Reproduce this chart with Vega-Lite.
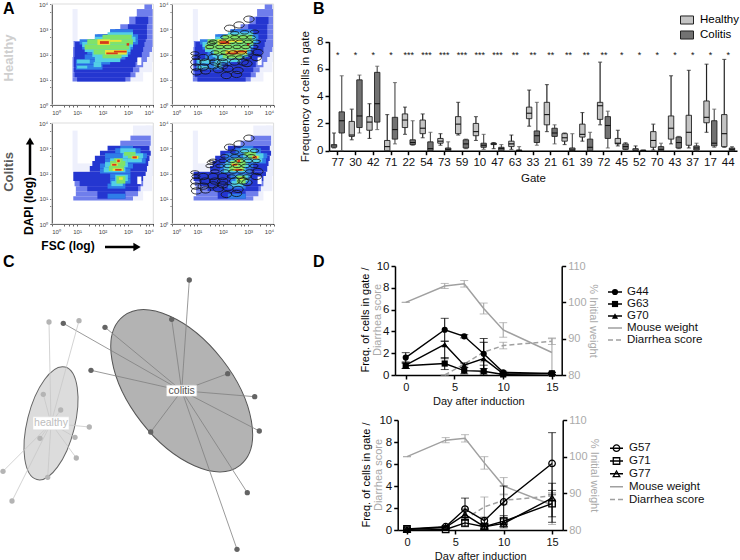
{"$schema":"https://vega.github.io/schema/vega-lite/v6.json","width":740,"height":560,"padding":0,"autosize":{"type":"none"},
"config":{"view":{"stroke":null},"font":"Liberation Sans","axis":{"grid":false,"domainColor":"#000","domainWidth":1.5,"tickColor":"#000","tickWidth":1.5,"tickSize":4,"labelFont":"Liberation Sans","titleFont":"Liberation Sans","titleFontWeight":"normal","labelColor":"#111","titleColor":"#111"}},
"datasets":{
"hd":[{"x":0.82,"x2":1.02,"y":2.5,"y2":3.8,"c":"p"},{"x":3.1,"x2":3.6,"y":0.93,"y2":1.3,"c":"p"},{"x":3.4,"x2":3.95,"y":1.3,"y2":1.7,"c":"p"},{"x":3.6,"x2":4,"y":1.7,"y2":2.3,"c":"p"},
{"x":0.82,"x2":3.1,"y":0.93,"y2":1.1,"c":"l"},{"x":0.82,"x2":3.3,"y":1.1,"y2":1.3,"c":"l"},{"x":0.82,"x2":3.45,"y":1.3,"y2":1.5,"c":"l"},{"x":0.82,"x2":3.6,"y":1.5,"y2":1.7,"c":"l"},{"x":0.82,"x2":3.75,"y":1.7,"y2":1.9,"c":"l"},{"x":0.84,"x2":3.85,"y":1.9,"y2":2.1,"c":"l"},{"x":0.84,"x2":3.95,"y":2.1,"y2":2.3,"c":"l"},{"x":0.86,"x2":3.98,"y":2.3,"y2":2.53,"c":"l"},{"x":1.5,"x2":3.98,"y":2.53,"y2":2.6,"c":"l"},{"x":1.8,"x2":3.98,"y":2.6,"y2":2.8,"c":"l"},{"x":2.3,"x2":3.98,"y":2.8,"y2":3,"c":"l"},{"x":2.7,"x2":3.98,"y":3,"y2":3.2,"c":"l"},{"x":3.05,"x2":3.98,"y":3.2,"y2":3.5,"c":"l"},{"x":3.35,"x2":3.98,"y":3.5,"y2":3.8,"c":"l"},{"x":3.65,"x2":3.95,"y":3.8,"y2":4,"c":"l"},
{"x":1,"x2":2.9,"y":0.93,"y2":1.1,"c":"b"},{"x":0.9,"x2":3.1,"y":1.1,"y2":1.3,"c":"b"},{"x":0.88,"x2":3.2,"y":1.3,"y2":1.5,"c":"b"},{"x":0.88,"x2":3.3,"y":1.5,"y2":1.7,"c":"b"},{"x":0.88,"x2":3.4,"y":1.7,"y2":1.9,"c":"b"},{"x":0.9,"x2":3.55,"y":1.9,"y2":2.1,"c":"b"},{"x":0.9,"x2":3.6,"y":2.1,"y2":2.3,"c":"b"},{"x":0.92,"x2":3.65,"y":2.3,"y2":2.5,"c":"b"},{"x":1.7,"x2":3.7,"y":2.5,"y2":2.6,"c":"b"},{"x":2,"x2":3.75,"y":2.6,"y2":2.8,"c":"b"},{"x":2.5,"x2":3.75,"y":2.8,"y2":3,"c":"b"},{"x":3,"x2":3.75,"y":3,"y2":3.2,"c":"b"},{"x":3.3,"x2":3.8,"y":3.2,"y2":3.5,"c":"b"},
{"x":0.95,"x2":2,"y":1.4,"y2":1.6,"c":"m"},{"x":0.95,"x2":2.3,"y":1.6,"y2":1.8,"c":"m"},{"x":1.3,"x2":2.9,"y":1.8,"y2":2,"c":"m"},{"x":1.4,"x2":3.1,"y":2,"y2":2.2,"c":"m"},{"x":1.2,"x2":3.2,"y":2.2,"y2":2.4,"c":"m"},{"x":1.1,"x2":3.4,"y":2.4,"y2":2.6,"c":"m"},{"x":1.7,"x2":3.4,"y":2.6,"y2":2.8,"c":"m"},{"x":2.3,"x2":3.2,"y":2.8,"y2":3,"c":"m"},
{"x":1,"x2":1.5,"y":1.65,"y2":1.8,"c":"c"},{"x":1,"x2":1.4,"y":1.45,"y2":1.55,"c":"c"},{"x":1.65,"x2":1.95,"y":1.5,"y2":1.7,"c":"c"},{"x":1.7,"x2":2.7,"y":1.7,"y2":1.9,"c":"c"},{"x":1.6,"x2":3,"y":1.9,"y2":2.1,"c":"c"},{"x":1.3,"x2":3.1,"y":2.1,"y2":2.3,"c":"c"},{"x":1.2,"x2":3.2,"y":2.3,"y2":2.5,"c":"c"},{"x":1.7,"x2":3.3,"y":2.5,"y2":2.7,"c":"c"},{"x":2.2,"x2":3.2,"y":2.7,"y2":2.88,"c":"c"},
{"x":2,"x2":2.75,"y":1.85,"y2":2,"c":"g"},{"x":1.65,"x2":2.95,"y":2,"y2":2.2,"c":"g"},{"x":1.3,"x2":3.05,"y":2.2,"y2":2.4,"c":"g"},{"x":1.4,"x2":3.2,"y":2.4,"y2":2.6,"c":"g"},{"x":2,"x2":3.15,"y":2.6,"y2":2.78,"c":"g"},
{"x":1.8,"x2":2.3,"y":2.38,"y2":2.6,"c":"y"},{"x":2.3,"x2":2.75,"y":2.5,"y2":2.58,"c":"y"},{"x":2.1,"x2":2.95,"y":2,"y2":2.18,"c":"y"},
{"x":1.9,"x2":2.25,"y":2.42,"y2":2.53,"c":"r"},{"x":2.15,"x2":2.6,"y":2.01,"y2":2.08,"c":"r"},{"x":2.45,"x2":2.95,"y":2.08,"y2":2.15,"c":"r"},{"x":2.95,"x2":3.05,"y":2.35,"y2":2.45,"c":"r"},
{"x":3.37,"x2":3.53,"y":1.58,"y2":1.88,"c":"w"}],
"cd":[{"x":0.82,"x2":1.02,"y":2.1,"y2":3.7,"c":"p"},{"x":1,"x2":2,"y":2.1,"y2":2.4,"c":"p"},{"x":3.1,"x2":3.6,"y":0.93,"y2":1.3,"c":"p"},{"x":3.4,"x2":3.95,"y":1.3,"y2":1.9,"c":"p"},{"x":3.7,"x2":4,"y":1.9,"y2":3.9,"c":"p"},{"x":3.2,"x2":3.9,"y":3.3,"y2":3.9,"c":"p"},
{"x":0.85,"x2":3.2,"y":0.93,"y2":1.1,"c":"l"},{"x":0.95,"x2":3.4,"y":1.1,"y2":1.3,"c":"l"},{"x":0.95,"x2":3.5,"y":1.3,"y2":1.5,"c":"l"},{"x":0.9,"x2":3.6,"y":1.5,"y2":1.7,"c":"l"},{"x":2.7,"x2":3.9,"y":3.1,"y2":3.3,"c":"l"},{"x":3.1,"x2":3.9,"y":3.3,"y2":3.5,"c":"l"},
{"x":1.8,"x2":2.9,"y":1,"y2":1.3,"c":"b"},{"x":1.4,"x2":3.4,"y":1.3,"y2":1.5,"c":"b"},{"x":1.1,"x2":3.5,"y":1.5,"y2":1.7,"c":"b"},{"x":0.85,"x2":3.6,"y":1.7,"y2":1.9,"c":"b"},{"x":0.85,"x2":3.7,"y":1.9,"y2":2.07,"c":"b"},{"x":1.5,"x2":3.75,"y":2.07,"y2":2.3,"c":"b"},{"x":1.6,"x2":3.8,"y":2.3,"y2":2.5,"c":"b"},{"x":1.7,"x2":3.85,"y":2.5,"y2":2.7,"c":"b"},{"x":1.9,"x2":3.9,"y":2.7,"y2":2.9,"c":"b"},{"x":2.2,"x2":3.85,"y":2.9,"y2":3.1,"c":"b"},
{"x":2.2,"x2":2.9,"y":1,"y2":1.2,"c":"m"},{"x":2.2,"x2":2.9,"y":1.4,"y2":1.6,"c":"m"},{"x":2.3,"x2":3.1,"y":1.6,"y2":1.8,"c":"m"},{"x":2.3,"x2":3.1,"y":1.8,"y2":2,"c":"m"},{"x":1.9,"x2":3.1,"y":2,"y2":2.2,"c":"m"},{"x":1.9,"x2":3.2,"y":2.2,"y2":2.4,"c":"m"},{"x":2.1,"x2":3.7,"y":2.4,"y2":2.6,"c":"m"},{"x":2.1,"x2":3.75,"y":2.6,"y2":2.8,"c":"m"},{"x":2.5,"x2":3.5,"y":2.8,"y2":3,"c":"m"},{"x":2.7,"x2":3.2,"y":3,"y2":3.1,"c":"m"},
{"x":2.35,"x2":2.8,"y":1.5,"y2":1.7,"c":"c"},{"x":2.5,"x2":3,"y":1.7,"y2":1.95,"c":"c"},{"x":2.05,"x2":2.9,"y":2.05,"y2":2.25,"c":"c"},{"x":2.1,"x2":3,"y":2.25,"y2":2.45,"c":"c"},{"x":2.3,"x2":3,"y":2.45,"y2":2.6,"c":"c"},{"x":3,"x2":3.55,"y":2.45,"y2":2.6,"c":"c"},{"x":2.8,"x2":3.6,"y":2.6,"y2":2.8,"c":"c"},{"x":2.7,"x2":3.3,"y":2.8,"y2":3,"c":"c"},
{"x":2.55,"x2":2.9,"y":1.6,"y2":1.9,"c":"g"},{"x":2.25,"x2":2.85,"y":2.1,"y2":2.3,"c":"g"},{"x":2.3,"x2":2.9,"y":2.3,"y2":2.5,"c":"g"},{"x":2.45,"x2":2.8,"y":2.5,"y2":2.6,"c":"g"},{"x":3,"x2":3.45,"y":2.6,"y2":2.7,"c":"g"},{"x":2.85,"x2":3.3,"y":2.7,"y2":2.85,"c":"g"},
{"x":2.65,"x2":2.8,"y":1.75,"y2":1.85,"c":"y"},{"x":2.4,"x2":2.8,"y":2.1,"y2":2.2,"c":"y"},{"x":2.35,"x2":2.6,"y":2.3,"y2":2.4,"c":"y"},{"x":2.55,"x2":2.7,"y":2.43,"y2":2.57,"c":"y"},{"x":3.15,"x2":3.4,"y":2.58,"y2":2.7,"c":"y"},
{"x":3.18,"x2":3.35,"y":2.6,"y2":2.68,"c":"r"},{"x":2.5,"x2":2.75,"y":2.11,"y2":2.18,"c":"r"},{"x":2.38,"x2":2.55,"y":2.31,"y2":2.38,"c":"r"},{"x":2.58,"x2":2.68,"y":2.45,"y2":2.55,"c":"r"},
{"x":3.37,"x2":3.53,"y":1.58,"y2":1.88,"c":"w"}],
"gates":[{"x":2.27,"y":3.04,"k":"a"},{"x":2.64,"y":3.17,"k":"a"},{"x":3.03,"y":3.4,"k":"a"},{"x":2.47,"y":2.84,"k":"b"},{"x":2.86,"y":2.88,"k":"b"},{"x":3.25,"y":2.9,"k":"b"},{"x":2.08,"y":2.68,"k":"b"},{"x":2.47,"y":2.68,"k":"b"},{"x":2.8,"y":2.68,"k":"b"},{"x":3.12,"y":2.68,"k":"b"},{"x":1.62,"y":2.5,"k":"b"},{"x":2,"y":2.5,"k":"b"},{"x":2.34,"y":2.5,"k":"b"},{"x":2.67,"y":2.5,"k":"b"},{"x":3,"y":2.5,"k":"b"},{"x":3.32,"y":2.5,"k":"b"},{"x":1.49,"y":2.3,"k":"b"},{"x":1.88,"y":2.3,"k":"b"},{"x":2.2,"y":2.3,"k":"b"},{"x":2.56,"y":2.3,"k":"b"},{"x":2.9,"y":2.3,"k":"b"},{"x":3.23,"y":2.3,"k":"b"},{"x":1.69,"y":2.08,"k":"b"},{"x":2.08,"y":2.08,"k":"b"},{"x":2.4,"y":2.08,"k":"b"},{"x":2.73,"y":2.08,"k":"b"},{"x":3.06,"y":2.08,"k":"b"},{"x":3.38,"y":2.08,"k":"a"},{"x":1.23,"y":1.88,"k":"a"},{"x":1.62,"y":1.88,"k":"a"},{"x":2,"y":1.88,"k":"a"},{"x":2.34,"y":1.88,"k":"b"},{"x":2.67,"y":1.88,"k":"b"},{"x":2.95,"y":1.88,"k":"b"},{"x":3.32,"y":1.88,"k":"a"},{"x":0.94,"y":1.7,"k":"a"},{"x":1.3,"y":1.7,"k":"a"},{"x":1.69,"y":1.7,"k":"a"},{"x":2,"y":1.7,"k":"a"},{"x":2.47,"y":1.7,"k":"a"},{"x":2.8,"y":1.7,"k":"a"},{"x":0.94,"y":1.5,"k":"a"},{"x":1.23,"y":1.5,"k":"a"},{"x":1.62,"y":1.55,"k":"a"},{"x":2,"y":1.55,"k":"a"},{"x":0.97,"y":1.31,"k":"a"},{"x":1.32,"y":1.35,"k":"a"},{"x":1.82,"y":1.4,"k":"a"},{"x":2.2,"y":1.44,"k":"a"},{"x":2.6,"y":1.37,"k":"a"},{"x":2.95,"y":1.64,"k":"a"},{"x":2.14,"y":1.17,"k":"a"},{"x":2.54,"y":1.21,"k":"a"},{"x":0.94,"y":1.88,"k":"b"},{"x":0.9,"y":2.04,"k":"b"},{"x":1.55,"y":2.44,"k":"b"}],
"spokes":[{"g":"colitis","x":189.3,"y":10,"cx":181.7,"cy":120.7},{"g":"colitis","x":171.7,"y":49.3,"cx":181.7,"cy":120.7},{"g":"colitis","x":63.3,"y":53.3,"cx":181.7,"cy":120.7},{"g":"colitis","x":105,"y":57.3,"cx":181.7,"cy":120.7},{"g":"colitis","x":91,"y":100.3,"cx":181.7,"cy":120.7},{"g":"colitis","x":227.7,"y":103.7,"cx":181.7,"cy":120.7},{"g":"colitis","x":254.7,"y":126.7,"cx":181.7,"cy":120.7},{"g":"colitis","x":259.3,"y":161,"cx":181.7,"cy":120.7},{"g":"colitis","x":150.7,"y":162,"cx":181.7,"cy":120.7},{"g":"colitis","x":247.3,"y":222.7,"cx":181.7,"cy":120.7},{"g":"colitis","x":237,"y":279.3,"cx":181.7,"cy":120.7},
{"g":"healthy","x":49,"y":52,"cx":51,"cy":153.3},{"g":"healthy","x":79,"y":50.7,"cx":51,"cy":153.3},{"g":"healthy","x":43.3,"y":124.3,"cx":51,"cy":153.3},{"g":"healthy","x":60.7,"y":140,"cx":51,"cy":153.3},{"g":"healthy","x":89.3,"y":157,"cx":51,"cy":153.3},{"g":"healthy","x":75,"y":167.3,"cx":51,"cy":153.3},{"g":"healthy","x":40,"y":168.3,"cx":51,"cy":153.3},{"g":"healthy","x":76.3,"y":188,"cx":51,"cy":153.3},{"g":"healthy","x":47.7,"y":207.3,"cx":51,"cy":153.3},{"g":"healthy","x":3,"y":201.3,"cx":51,"cy":153.3},{"g":"healthy","x":12,"y":231,"cx":51,"cy":153.3}],
"hubs":[{"g":"healthy","x":51,"y":153.3},{"g":"colitis","x":181.7,"y":120.7}],
"box":[{"gate":"77","group":"Healthy","lo":0.2,"q1":0.25,"med":0.35,"q3":0.45,"hi":1.3},{"gate":"77","group":"Colitis","lo":0,"q1":1.3,"med":2.2,"q3":2.85,"hi":5.5},{"gate":"30","group":"Healthy","lo":0.8,"q1":1.05,"med":1.15,"q3":2.15,"hi":3.05},{"gate":"30","group":"Colitis","lo":1.3,"q1":1.7,"med":2.55,"q3":5.2,"hi":5.55},{"gate":"42","group":"Healthy","lo":0.9,"q1":1.5,"med":2.1,"q3":2.5,"hi":3.45},{"gate":"42","group":"Colitis","lo":1.55,"q1":2.1,"med":3.45,"q3":5.75,"hi":6.2},{"gate":"71","group":"Healthy","lo":0,"q1":0,"med":0.3,"q3":0.75,"hi":2.65},{"gate":"71","group":"Colitis","lo":0.5,"q1":0.85,"med":1.55,"q3":2.45,"hi":5},{"gate":"22","group":"Healthy","lo":1.2,"q1":1.7,"med":2.25,"q3":2.7,"hi":3.2},{"gate":"22","group":"Colitis","lo":0.4,"q1":0.45,"med":0.6,"q3":0.8,"hi":2.2},{"gate":"54","group":"Healthy","lo":0.95,"q1":1.25,"med":1.65,"q3":2.25,"hi":2.7},{"gate":"54","group":"Colitis","lo":0,"q1":0,"med":0.15,"q3":0.65,"hi":1.35},{"gate":"73","group":"Healthy","lo":0.4,"q1":0.55,"med":0.7,"q3":0.9,"hi":1.25},{"gate":"73","group":"Colitis","lo":0,"q1":0,"med":0.1,"q3":0.2,"hi":0.65},{"gate":"59","group":"Healthy","lo":1.15,"q1":1.25,"med":1.95,"q3":2.5,"hi":3.55},{"gate":"59","group":"Colitis","lo":0.15,"q1":0.2,"med":0.5,"q3":0.8,"hi":0.85},{"gate":"10","group":"Healthy","lo":0.75,"q1":1.1,"med":1.4,"q3":2,"hi":2.5},{"gate":"10","group":"Colitis","lo":0.1,"q1":0.25,"med":0.4,"q3":0.55,"hi":1.2},{"gate":"47","group":"Healthy","lo":0.15,"q1":0.45,"med":0.5,"q3":0.55,"hi":0.6},{"gate":"47","group":"Colitis","lo":0,"q1":0,"med":0.15,"q3":0.25,"hi":0.45},{"gate":"63","group":"Healthy","lo":0.1,"q1":0.3,"med":0.5,"q3":0.7,"hi":1.15},{"gate":"63","group":"Colitis","lo":0,"q1":0,"med":0.02,"q3":0.05,"hi":0.3},{"gate":"33","group":"Healthy","lo":1.8,"q1":2.35,"med":2.75,"q3":3.2,"hi":4.45},{"gate":"33","group":"Colitis","lo":0.4,"q1":0.6,"med":1.1,"q3":1.45,"hi":3.55},{"gate":"21","group":"Healthy","lo":1.4,"q1":1.9,"med":2.65,"q3":3.55,"hi":4.85},{"gate":"21","group":"Colitis","lo":0.5,"q1":1.05,"med":1.3,"q3":1.65,"hi":1.9},{"gate":"61","group":"Healthy","lo":0.45,"q1":0.7,"med":0.95,"q3":1.25,"hi":1.3},{"gate":"61","group":"Colitis","lo":0,"q1":0,"med":0.05,"q3":0.2,"hi":1.25},{"gate":"39","group":"Healthy","lo":0.7,"q1":1,"med":1.2,"q3":1.95,"hi":2.8},{"gate":"39","group":"Colitis","lo":0,"q1":0,"med":0.25,"q3":0.85,"hi":1.35},{"gate":"72","group":"Healthy","lo":1.9,"q1":2.3,"med":3.3,"q3":3.55,"hi":6.5},{"gate":"72","group":"Colitis","lo":0.2,"q1":0.9,"med":1.85,"q3":2.5,"hi":2.9},{"gate":"45","group":"Healthy","lo":0.35,"q1":0.5,"med":0.55,"q3":0.9,"hi":1.5},{"gate":"45","group":"Colitis","lo":0.05,"q1":0.1,"med":0.3,"q3":0.5,"hi":0.6},{"gate":"52","group":"Healthy","lo":0,"q1":0,"med":0.05,"q3":0.15,"hi":0.35},{"gate":"52","group":"Colitis","lo":0,"q1":0,"med":0.02,"q3":0.03,"hi":0.05},{"gate":"70","group":"Healthy","lo":0.05,"q1":0.25,"med":0.75,"q3":1.4,"hi":1.95},{"gate":"70","group":"Colitis","lo":0,"q1":0,"med":0.1,"q3":0.3,"hi":0.55},{"gate":"43","group":"Healthy","lo":0.5,"q1":0.85,"med":1.65,"q3":2.55,"hi":5.5},{"gate":"43","group":"Colitis","lo":0.15,"q1":0.2,"med":0.6,"q3":1,"hi":1.05},{"gate":"37","group":"Healthy","lo":0.2,"q1":0.4,"med":1.35,"q3":2.6,"hi":5.9},{"gate":"37","group":"Colitis","lo":0,"q1":0.05,"med":0.2,"q3":0.35,"hi":0.55},{"gate":"17","group":"Healthy","lo":1.35,"q1":2.05,"med":2.45,"q3":3.65,"hi":6.35},{"gate":"17","group":"Colitis","lo":0.25,"q1":0.35,"med":0.55,"q3":2.2,"hi":3.05},{"gate":"44","group":"Healthy","lo":0.25,"q1":0.3,"med":1.25,"q3":2.65,"hi":6.7},{"gate":"44","group":"Colitis","lo":0,"q1":0,"med":0.1,"q3":0.2,"hi":0.3}],
"stars":[{"gate":"77","s":"*"},{"gate":"30","s":"*"},{"gate":"42","s":"*"},{"gate":"71","s":"*"},{"gate":"22","s":"***"},{"gate":"54","s":"***"},{"gate":"73","s":"***"},{"gate":"59","s":"***"},{"gate":"10","s":"***"},{"gate":"47","s":"***"},{"gate":"63","s":"**"},{"gate":"33","s":"**"},{"gate":"21","s":"**"},{"gate":"61","s":"**"},{"gate":"39","s":"**"},{"gate":"72","s":"**"},{"gate":"45","s":"*"},{"gate":"52","s":"*"},{"gate":"70","s":"*"},{"gate":"43","s":"*"},{"gate":"37","s":"*"},{"gate":"17","s":"*"},{"gate":"44","s":"*"}],
"d1":[{"s":"W","day":0,"v":100,"lo":100,"hi":100},{"s":"W","day":4,"v":104.5,"lo":103.8,"hi":105.2},{"s":"W","day":6,"v":105.1,"lo":104.2,"hi":106},{"s":"W","day":8,"v":98.3,"lo":96.8,"hi":99.8},{"s":"W","day":10,"v":92.4,"lo":90.4,"hi":94.4},{"s":"W","day":15,"v":86.2,"lo":80,"hi":90},
{"s":"S","day":4,"v":0,"lo":0,"hi":0},{"s":"S","day":6,"v":1,"lo":0.9,"hi":1.1},{"s":"S","day":8,"v":2.1,"lo":1.2,"hi":3},{"s":"S","day":10,"v":2.7,"lo":2.4,"hi":3},{"s":"S","day":15,"v":3.1,"lo":2.8,"hi":3.4},
{"s":"G44","day":0,"v":1.6,"lo":1.1,"hi":2.05},{"s":"G44","day":4,"v":4.15,"lo":3.1,"hi":5.2},{"s":"G44","day":6,"v":3.55,"lo":3.4,"hi":3.7},{"s":"G44","day":8,"v":1.95,"lo":0.6,"hi":3.35},{"s":"G44","day":10,"v":0.25,"lo":0.15,"hi":0.35},{"s":"G44","day":15,"v":0.15,"lo":0.05,"hi":0.25},
{"s":"G63","day":0,"v":0.85,"lo":0.6,"hi":1.1},{"s":"G63","day":4,"v":1.05,"lo":0.5,"hi":1.6},{"s":"G63","day":6,"v":0.4,"lo":0.1,"hi":0.7},{"s":"G63","day":8,"v":0.35,"lo":0,"hi":0.9},{"s":"G63","day":10,"v":0.05,"lo":0,"hi":0.1},{"s":"G63","day":15,"v":0.15,"lo":0.05,"hi":0.25},
{"s":"G70","day":0,"v":0.9,"lo":0.6,"hi":1.2},{"s":"G70","day":4,"v":2.8,"lo":1.5,"hi":3.1},{"s":"G70","day":6,"v":0.9,"lo":0.7,"hi":1.1},{"s":"G70","day":8,"v":1.5,"lo":0.2,"hi":3},{"s":"G70","day":10,"v":0.1,"lo":0,"hi":0.2},{"s":"G70","day":15,"v":0.1,"lo":0,"hi":0.2}],
"d2":[{"s":"W","day":0,"v":100,"lo":100,"hi":100},{"s":"W","day":4,"v":104.5,"lo":103.8,"hi":105.2},{"s":"W","day":6,"v":105,"lo":104,"hi":106},{"s":"W","day":8,"v":98.3,"lo":96.6,"hi":100},{"s":"W","day":10,"v":92,"lo":89.8,"hi":94.3},{"s":"W","day":15,"v":86.8,"lo":81.5,"hi":90},
{"s":"S","day":6,"v":1,"lo":0.9,"hi":1.1},{"s":"S","day":8,"v":2.1,"lo":1.2,"hi":3},{"s":"S","day":10,"v":2.7,"lo":2.3,"hi":3.2},{"s":"S","day":15,"v":3.1,"lo":2.8,"hi":3.4},
{"s":"G57","day":0,"v":0.1,"lo":0,"hi":0.2},{"s":"G57","day":4,"v":0.3,"lo":0.2,"hi":0.4},{"s":"G57","day":6,"v":1.9,"lo":0.9,"hi":2.9},{"s":"G57","day":8,"v":0.85,"lo":0.6,"hi":1.1},{"s":"G57","day":10,"v":2.55,"lo":1.1,"hi":4},{"s":"G57","day":15,"v":6.05,"lo":3.2,"hi":8.85},
{"s":"G71","day":0,"v":0.1,"lo":0,"hi":0.2},{"s":"G71","day":4,"v":0.05,"lo":0,"hi":0.1},{"s":"G71","day":6,"v":0.65,"lo":0.3,"hi":1},{"s":"G71","day":8,"v":0.3,"lo":0.1,"hi":0.5},{"s":"G71","day":10,"v":0.8,"lo":0.3,"hi":1.3},{"s":"G71","day":15,"v":2.4,"lo":1.2,"hi":3.6},
{"s":"G77","day":0,"v":0.05,"lo":0,"hi":0.1},{"s":"G77","day":4,"v":0.25,"lo":0.15,"hi":0.35},{"s":"G77","day":6,"v":1.4,"lo":0.9,"hi":1.9},{"s":"G77","day":8,"v":0.3,"lo":0.1,"hi":0.5},{"s":"G77","day":10,"v":0.6,"lo":0.2,"hi":1},{"s":"G77","day":15,"v":2.9,"lo":0.7,"hi":4.25}]
},
"data":{"values":[{"n":1}]},
"resolve":{"scale":{"x":"independent","y":"independent","color":"independent","stroke":"independent","shape":"independent","size":"independent","strokeDash":"independent"},"axis":{"x":"independent","y":"independent"}},
"layer":[
{"layer":[
 {"mark":{"type":"text","text":"A","fontSize":16,"fontWeight":"bold","align":"left"},"encoding":{"x":{"datum":3,"scale":{"domain":[0,740],"range":[0,740],"nice":false},"axis":null},"y":{"datum":9,"scale":{"domain":[0,560],"range":[0,560],"nice":false},"axis":null}}},
 {"mark":{"type":"text","text":"B","fontSize":16,"fontWeight":"bold","align":"left"},"encoding":{"x":{"datum":313,"axis":null},"y":{"datum":9,"axis":null}}},
 {"mark":{"type":"text","text":"C","fontSize":16,"fontWeight":"bold","align":"left"},"encoding":{"x":{"datum":3,"axis":null},"y":{"datum":262,"axis":null}}},
 {"mark":{"type":"text","text":"D","fontSize":16,"fontWeight":"bold","align":"left"},"encoding":{"x":{"datum":313,"axis":null},"y":{"datum":262,"axis":null}}},
 {"mark":{"type":"text","text":"Healthy","fontSize":13,"fontWeight":"bold","angle":270,"color":"#cfcfcf"},"encoding":{"x":{"datum":9,"axis":null},"y":{"datum":58,"axis":null}}},
 {"mark":{"type":"text","text":"Colitis","fontSize":13,"fontWeight":"bold","angle":270,"color":"#5a5a5a"},"encoding":{"x":{"datum":9,"axis":null},"y":{"datum":172,"axis":null}}},
 {"mark":{"type":"text","text":"DAPI (log)","fontSize":12,"fontWeight":"bold","angle":270},"encoding":{"x":{"datum":29,"axis":null},"y":{"datum":206,"axis":null}}},
 {"mark":{"type":"text","text":"FSC (log)","fontSize":12,"fontWeight":"bold"},"encoding":{"x":{"datum":68,"axis":null},"y":{"datum":246,"axis":null}}},
 {"mark":{"type":"rule","strokeWidth":2.5,"color":"#000"},"encoding":{"x":{"datum":30,"axis":null},"y":{"datum":175,"axis":null},"y2":{"datum":142}}},
 {"mark":{"type":"point","shape":"triangle-up","filled":true,"size":70,"color":"#000","opacity":1},"encoding":{"x":{"datum":30,"axis":null},"y":{"datum":141,"axis":null}}},
 {"mark":{"type":"rule","strokeWidth":2.5,"color":"#000"},"encoding":{"x":{"datum":105,"axis":null},"x2":{"datum":136},"y":{"datum":247,"axis":null}}},
 {"mark":{"type":"point","shape":"triangle-right","filled":true,"size":70,"color":"#000","opacity":1},"encoding":{"x":{"datum":137,"axis":null},"y":{"datum":247,"axis":null}}},
 {"mark":{"type":"text","text":"Freq. of cells in gate /","fontSize":11,"angle":270},"encoding":{"x":{"datum":366,"axis":null},"y":{"datum":320,"axis":null}}},
 {"mark":{"type":"text","text":"Diarrhea score","fontSize":11,"angle":270,"color":"#aaa"},"encoding":{"x":{"datum":378,"axis":null},"y":{"datum":320,"axis":null}}},
 {"mark":{"type":"text","text":"Freq. of cells in gate /","fontSize":11,"angle":270},"encoding":{"x":{"datum":367,"axis":null},"y":{"datum":475,"axis":null}}},
 {"mark":{"type":"text","text":"Diarrhea score","fontSize":11,"angle":270,"color":"#aaa"},"encoding":{"x":{"datum":379,"axis":null},"y":{"datum":475,"axis":null}}}
]},
{"layer":[
 {"data":{"name":"hd"},"mark":{"type":"rect"},"encoding":{"x":{"field":"x","type":"quantitative","scale":{"domain":[0,4],"nice":false,"range":[51.7,153.3]},"axis":{"orient":"bottom","offset":-455,"values":[0,0.3,0.48,0.6,0.7,0.78,0.85,0.9,1,1.3,1.48,1.6,1.7,1.78,1.85,1.9,2,2.3,2.48,2.6,2.7,2.78,2.85,2.9,3,3.3,3.48,3.6,3.7,3.78,3.85,3.9,4],"labelExpr":"datum.value==floor(datum.value)?'10'+['⁰','¹','²','³','⁴'][datum.value]:''","labelFontSize":6,"tickSize":2,"tickWidth":0.6,"domainWidth":1,"labelPadding":2,"title":null,"labelColor":"#444"}},"x2":{"field":"x2"},"y":{"field":"y","type":"quantitative","scale":{"domain":[0,4],"nice":false,"range":[105,4]},"axis":{"orient":"left","offset":-51.7,"values":[0,0.3,0.48,0.6,0.7,0.78,0.85,0.9,1,1.3,1.48,1.6,1.7,1.78,1.85,1.9,2,2.3,2.48,2.6,2.7,2.78,2.85,2.9,3,3.3,3.48,3.6,3.7,3.78,3.85,3.9,4],"labelExpr":"datum.value==floor(datum.value)?'10'+['⁰','¹','²','³','⁴'][datum.value]:''","labelFontSize":6,"tickSize":2,"tickWidth":0.6,"domainWidth":1,"labelPadding":2,"title":null,"labelColor":"#444"}},"y2":{"field":"y2"},"color":{"field":"c","type":"nominal","legend":null,"scale":{"domain":["p","l","b","m","c","g","y","r","w"],"range":["#eef0fc","#6f7eec","#2436d0","#2f7de8","#52cfe6","#7fe36a","#e9e43a","#d63a1a","#ffffff"]}}}},
 {"mark":{"type":"rect","fill":null,"stroke":"#ddd","strokeWidth":1},"encoding":{"x":{"datum":0},"x2":{"datum":4},"y":{"datum":0},"y2":{"datum":4}}}
]},
{"layer":[
 {"data":{"name":"hd"},"mark":{"type":"rect"},"encoding":{"x":{"field":"x","type":"quantitative","scale":{"domain":[0,4],"nice":false,"range":[172,273.6]},"axis":{"orient":"bottom","offset":-455,"values":[0,0.3,0.48,0.6,0.7,0.78,0.85,0.9,1,1.3,1.48,1.6,1.7,1.78,1.85,1.9,2,2.3,2.48,2.6,2.7,2.78,2.85,2.9,3,3.3,3.48,3.6,3.7,3.78,3.85,3.9,4],"labelExpr":"datum.value==floor(datum.value)?'10'+['⁰','¹','²','³','⁴'][datum.value]:''","labelFontSize":6,"tickSize":2,"tickWidth":0.6,"domainWidth":1,"labelPadding":2,"title":null,"labelColor":"#444"}},"x2":{"field":"x2"},"y":{"field":"y","type":"quantitative","scale":{"domain":[0,4],"nice":false,"range":[105,4]},"axis":{"orient":"left","offset":-172,"values":[0,0.3,0.48,0.6,0.7,0.78,0.85,0.9,1,1.3,1.48,1.6,1.7,1.78,1.85,1.9,2,2.3,2.48,2.6,2.7,2.78,2.85,2.9,3,3.3,3.48,3.6,3.7,3.78,3.85,3.9,4],"labelExpr":"datum.value==floor(datum.value)?'10'+['⁰','¹','²','³','⁴'][datum.value]:''","labelFontSize":6,"tickSize":2,"tickWidth":0.6,"domainWidth":1,"labelPadding":2,"title":null,"labelColor":"#444"}},"y2":{"field":"y2"},"color":{"field":"c","type":"nominal","legend":null,"scale":{"domain":["p","l","b","m","c","g","y","r","w"],"range":["#eef0fc","#6f7eec","#2436d0","#2f7de8","#52cfe6","#7fe36a","#e9e43a","#d63a1a","#ffffff"]}}}},
 {"mark":{"type":"rect","fill":null,"stroke":"#ddd","strokeWidth":1},"encoding":{"x":{"datum":0},"x2":{"datum":4},"y":{"datum":0},"y2":{"datum":4}}},
 {"data":{"name":"gates"},"mark":{"type":"point","filled":false,"stroke":"#111","strokeWidth":0.8,"opacity":1},"encoding":{"x":{"field":"x","type":"quantitative"},"y":{"field":"y","type":"quantitative"},"shape":{"field":"k","type":"nominal","legend":null,"scale":{"domain":["a","b"],"range":["M-1,0A1,0.6,0,1,1,1,0A1,0.6,0,1,1,-1,0Z","M-1,0A1,0.42,0,1,1,1,0A1,0.42,0,1,1,-1,0Z"]}},"size":{"field":"k","type":"ordinal","legend":null,"scale":{"domain":["a","b"],"range":[110,70]}}}}
]},
{"layer":[
 {"data":{"name":"cd"},"mark":{"type":"rect"},"encoding":{"x":{"field":"x","type":"quantitative","scale":{"domain":[0,4],"nice":false,"range":[51.7,153.3]},"axis":{"orient":"bottom","offset":-336,"values":[0,0.3,0.48,0.6,0.7,0.78,0.85,0.9,1,1.3,1.48,1.6,1.7,1.78,1.85,1.9,2,2.3,2.48,2.6,2.7,2.78,2.85,2.9,3,3.3,3.48,3.6,3.7,3.78,3.85,3.9,4],"labelExpr":"datum.value==floor(datum.value)?'10'+['⁰','¹','²','³','⁴'][datum.value]:''","labelFontSize":6,"tickSize":2,"tickWidth":0.6,"domainWidth":1,"labelPadding":2,"title":null,"labelColor":"#444"}},"x2":{"field":"x2"},"y":{"field":"y","type":"quantitative","scale":{"domain":[0,4],"nice":false,"range":[224,123]},"axis":{"orient":"left","offset":-51.7,"values":[0,0.3,0.48,0.6,0.7,0.78,0.85,0.9,1,1.3,1.48,1.6,1.7,1.78,1.85,1.9,2,2.3,2.48,2.6,2.7,2.78,2.85,2.9,3,3.3,3.48,3.6,3.7,3.78,3.85,3.9,4],"labelExpr":"datum.value==floor(datum.value)?'10'+['⁰','¹','²','³','⁴'][datum.value]:''","labelFontSize":6,"tickSize":2,"tickWidth":0.6,"domainWidth":1,"labelPadding":2,"title":null,"labelColor":"#444"}},"y2":{"field":"y2"},"color":{"field":"c","type":"nominal","legend":null,"scale":{"domain":["p","l","b","m","c","g","y","r","w"],"range":["#eef0fc","#6f7eec","#2436d0","#2f7de8","#52cfe6","#7fe36a","#e9e43a","#d63a1a","#ffffff"]}}}},
 {"mark":{"type":"rect","fill":null,"stroke":"#ddd","strokeWidth":1},"encoding":{"x":{"datum":0},"x2":{"datum":4},"y":{"datum":0},"y2":{"datum":4}}}
]},
{"layer":[
 {"data":{"name":"cd"},"mark":{"type":"rect"},"encoding":{"x":{"field":"x","type":"quantitative","scale":{"domain":[0,4],"nice":false,"range":[172,273.6]},"axis":{"orient":"bottom","offset":-336,"values":[0,0.3,0.48,0.6,0.7,0.78,0.85,0.9,1,1.3,1.48,1.6,1.7,1.78,1.85,1.9,2,2.3,2.48,2.6,2.7,2.78,2.85,2.9,3,3.3,3.48,3.6,3.7,3.78,3.85,3.9,4],"labelExpr":"datum.value==floor(datum.value)?'10'+['⁰','¹','²','³','⁴'][datum.value]:''","labelFontSize":6,"tickSize":2,"tickWidth":0.6,"domainWidth":1,"labelPadding":2,"title":null,"labelColor":"#444"}},"x2":{"field":"x2"},"y":{"field":"y","type":"quantitative","scale":{"domain":[0,4],"nice":false,"range":[224,123]},"axis":{"orient":"left","offset":-172,"values":[0,0.3,0.48,0.6,0.7,0.78,0.85,0.9,1,1.3,1.48,1.6,1.7,1.78,1.85,1.9,2,2.3,2.48,2.6,2.7,2.78,2.85,2.9,3,3.3,3.48,3.6,3.7,3.78,3.85,3.9,4],"labelExpr":"datum.value==floor(datum.value)?'10'+['⁰','¹','²','³','⁴'][datum.value]:''","labelFontSize":6,"tickSize":2,"tickWidth":0.6,"domainWidth":1,"labelPadding":2,"title":null,"labelColor":"#444"}},"y2":{"field":"y2"},"color":{"field":"c","type":"nominal","legend":null,"scale":{"domain":["p","l","b","m","c","g","y","r","w"],"range":["#eef0fc","#6f7eec","#2436d0","#2f7de8","#52cfe6","#7fe36a","#e9e43a","#d63a1a","#ffffff"]}}}},
 {"mark":{"type":"rect","fill":null,"stroke":"#ddd","strokeWidth":1},"encoding":{"x":{"datum":0},"x2":{"datum":4},"y":{"datum":0},"y2":{"datum":4}}},
 {"data":{"name":"gates"},"mark":{"type":"point","filled":false,"stroke":"#111","strokeWidth":0.8,"opacity":1},"encoding":{"x":{"field":"x","type":"quantitative"},"y":{"field":"y","type":"quantitative"},"shape":{"field":"k","type":"nominal","legend":null,"scale":{"domain":["a","b"],"range":["M-1,0A1,0.6,0,1,1,1,0A1,0.6,0,1,1,-1,0Z","M-1,0A1,0.42,0,1,1,1,0A1,0.42,0,1,1,-1,0Z"]}},"size":{"field":"k","type":"ordinal","legend":null,"scale":{"domain":["a","b"],"range":[110,70]}}}}
]},
{"layer":[
 {"data":{"name":"hubs"},"transform":[{"filter":"datum.g=='healthy'"}],"mark":{"type":"point","shape":"M-1,0A1,0.41,0,1,1,1,0A1,0.41,0,1,1,-1,0Z","size":13456,"angle":104,"filled":true,"fill":"#dcdcdc","stroke":"#666","strokeWidth":1,"opacity":1},"encoding":{"x":{"field":"x","type":"quantitative","scale":{"domain":[0,300],"nice":false,"range":[0,300]},"axis":null},"y":{"field":"y","type":"quantitative","scale":{"domain":[0,290],"nice":false,"range":[270,560]},"axis":null}}},
 {"data":{"name":"hubs"},"transform":[{"filter":"datum.g=='colitis'"}],"mark":{"type":"point","shape":"M-1,0A1,0.54,0,1,1,1,0A1,0.54,0,1,1,-1,0Z","size":35870,"angle":52,"filled":true,"fill":"#b3b3b3","stroke":"#555","strokeWidth":1,"opacity":1},"encoding":{"x":{"field":"x","type":"quantitative","axis":null},"y":{"field":"y","type":"quantitative","axis":null}}},
 {"data":{"name":"spokes"},"mark":{"type":"rule","strokeWidth":0.8},"encoding":{"x":{"field":"x","type":"quantitative","axis":null},"y":{"field":"y","type":"quantitative","axis":null},"x2":{"field":"cx"},"y2":{"field":"cy"},"stroke":{"field":"g","type":"nominal","legend":null,"scale":{"domain":["healthy","colitis"],"range":["#c8c8c8","#808080"]}}}},
 {"data":{"name":"spokes"},"transform":[{"filter":"datum.g=='healthy'"}],"mark":{"type":"circle","size":28,"opacity":1,"color":"#b4b4b4"},"encoding":{"x":{"field":"x","type":"quantitative","axis":null},"y":{"field":"y","type":"quantitative","axis":null}}},
 {"data":{"name":"spokes"},"transform":[{"filter":"datum.g=='colitis'"}],"mark":{"type":"circle","size":28,"opacity":1,"color":"#646464"},"encoding":{"x":{"field":"x","type":"quantitative","axis":null},"y":{"field":"y","type":"quantitative","axis":null}}},
 {"data":{"name":"hubs"},"mark":{"type":"point","shape":"M-1,-0.36H1V0.36H-1Z","filled":true,"fill":"#fff","stroke":"#ddd","strokeWidth":0.5,"opacity":1},"encoding":{"x":{"field":"x","type":"quantitative","axis":null},"y":{"field":"y","type":"quantitative","axis":null},"size":{"field":"g","type":"ordinal","legend":null,"scale":{"domain":["healthy","colitis"],"range":[1296,900]}}}},
 {"data":{"name":"hubs"},"mark":{"type":"text","fontSize":10.5},"encoding":{"x":{"field":"x","type":"quantitative","axis":null},"y":{"field":"y","type":"quantitative","axis":null},"text":{"field":"g"},"color":{"field":"g","type":"nominal","legend":null,"scale":{"domain":["healthy","colitis"],"range":["#bdbdbd","#555555"]}}}}
]},
{"layer":[
  {"data":{"name":"box"},"encoding":{"x":{"field":"gate","type":"nominal","sort":null,"scale":{"domain":["77","30","42","71","22","54","73","59","10","47","63","33","21","61","39","72","45","52","70","43","37","17","44"],"paddingInner":0,"paddingOuter":0,"range":[329,737]},"axis":{"orient":"bottom","offset":-409.3,"labelAngle":0,"labelFontSize":11.5,"titleFontSize":11.5,"title":"Gate","labelPadding":2,"titlePadding":4,"labelOverlap":false}},"xOffset":{"field":"group","type":"nominal","scale":{"domain":["Healthy","Colitis"],"paddingInner":0.3,"paddingOuter":0.3}}},
  "layer":[
   {"mark":{"type":"rule","strokeWidth":1.2},"encoding":{"y":{"field":"lo","type":"quantitative","scale":{"domain":[0,8],"nice":false,"range":[150.7,41.7]},"axis":{"orient":"left","offset":-329,"values":[0,2,4,6,8],"format":"d","labelFontSize":11.5,"titleFontSize":11.5,"title":"Frequency of cells in gate","labelPadding":2,"titlePadding":6}},"y2":{"field":"hi"},"color":{"field":"group","type":"nominal","legend":null,"scale":{"domain":["Healthy","Colitis"],"range":["#222222","#555555"]}}}},
   {"mark":{"type":"tick","orient":"horizontal","size":4,"thickness":1.1},"encoding":{"y":{"field":"lo","type":"quantitative"},"color":{"field":"group","type":"nominal","legend":null,"scale":{"domain":["Healthy","Colitis"],"range":["#222222","#555555"]}}}},
   {"mark":{"type":"tick","orient":"horizontal","size":4,"thickness":1.1},"encoding":{"y":{"field":"hi","type":"quantitative"},"color":{"field":"group","type":"nominal","legend":null,"scale":{"domain":["Healthy","Colitis"],"range":["#222222","#555555"]}}}},
   {"mark":{"type":"bar","stroke":"#222","strokeWidth":0.9},"encoding":{"y":{"field":"q1","type":"quantitative"},"y2":{"field":"q3"},"fill":{"field":"group","type":"nominal","scale":{"domain":["Healthy","Colitis"],"range":["#c4c4c4","#727272"]},"legend":{"orient":"none","legendX":680,"legendY":13,"title":null,"labelFontSize":11.5,"labelFont":"Liberation Sans","symbolType":"M-1,-0.62H1V0.62H-1Z","symbolSize":169,"symbolStrokeColor":"#222","symbolStrokeWidth":1,"rowPadding":1,"labelOffset":6}}}},
   {"mark":{"type":"tick","orient":"horizontal","size":5.4,"thickness":1.1,"color":"#111","opacity":1},"encoding":{"y":{"field":"med","type":"quantitative"}}}
  ]},
  {"data":{"name":"stars"},"mark":{"type":"text","fontSize":9,"color":"#111"},"encoding":{"x":{"field":"gate","type":"nominal","sort":null},"y":{"datum":7.05},"text":{"field":"s"}}}
]},
{"data":{"name":"d1"},"resolve":{"scale":{"y":"independent"},"axis":{"y":"independent"}},"layer":[
   {"transform":[{"filter":"datum.s=='W'"}],"layer":[
    {"mark":{"type":"line","color":"#a0a0a0","strokeWidth":1.5},"encoding":{"x":{"field":"day","type":"quantitative","scale":{"domain":[-1.1,16],"nice":false,"range":[395,561.7]},"axis":{"orient":"bottom","offset":-185,"values":[0,5,10,15],"labelFontSize":11,"titleFontSize":11,"title":"Day after induction","labelPadding":2,"titlePadding":3}},"y":{"field":"v","type":"quantitative","title":"% Initial weight","scale":{"domain":[80,110],"nice":false,"range":[375,266]},"axis":{"orient":"right","offset":-178.3,"values":[80,90,100,110],"labelColor":"#aaa","labelFontSize":11,"title":"% Initial weight","titleColor":"#aaa","titleFontSize":11,"titleAngle":90,"labelPadding":2,"titlePadding":1}}}},
    {"mark":{"type":"errorbar","color":"#a0a0a0","ticks":{"size":8,"color":"#a0a0a0"},"rule":{"color":"#a0a0a0"}},"encoding":{"x":{"field":"day","type":"quantitative"},"y":{"field":"lo","type":"quantitative","title":"% Initial weight"},"y2":{"field":"hi"}}}
   ]},
   {"layer":[
    {"transform":[{"filter":"datum.s=='S'"}],"mark":{"type":"line","color":"#a0a0a0","strokeWidth":1.5,"strokeDash":[5,3]},"encoding":{"x":{"field":"day","type":"quantitative"},"y":{"field":"v","type":"quantitative","scale":{"domain":[0,10],"nice":false,"range":[375,266]},"axis":{"orient":"left","offset":-395,"values":[0,2,4,6,8,10],"labelFontSize":11.5,"title":null,"labelPadding":2}}}},
    {"transform":[{"filter":"datum.s=='S'"}],"mark":{"type":"errorbar","color":"#a0a0a0","ticks":{"size":8,"color":"#a0a0a0"},"rule":{"color":"#a0a0a0"}},"encoding":{"x":{"field":"day","type":"quantitative"},"y":{"field":"lo","type":"quantitative"},"y2":{"field":"hi"}}},
    {"transform":[{"filter":"datum.s[0]=='G'"}],"mark":{"type":"line","color":"#000","strokeWidth":1.4},"encoding":{"x":{"field":"day","type":"quantitative"},"y":{"field":"v","type":"quantitative"},"detail":{"field":"s"}}},
    {"transform":[{"filter":"datum.s[0]=='G'"}],"mark":{"type":"errorbar","color":"#000","ticks":{"size":8,"color":"#000"},"rule":{"color":"#000"}},"encoding":{"x":{"field":"day","type":"quantitative"},"y":{"field":"lo","type":"quantitative"},"y2":{"field":"hi"}}},
    {"transform":[{"filter":"datum.s[0]=='G'"}],"mark":{"type":"point","filled":true,"color":"#000","size":38,"opacity":1},"encoding":{"x":{"field":"day","type":"quantitative"},"y":{"field":"v","type":"quantitative"},"shape":{"field":"s","type":"nominal","legend":null,"scale":{"domain":["G44","G63","G70"],"range":["circle","square","triangle-up"]}}}}
   ]}
]},
{"data":{"name":"d2"},"resolve":{"scale":{"y":"independent"},"axis":{"y":"independent"}},"layer":[
   {"transform":[{"filter":"datum.s=='W'"}],"layer":[
    {"mark":{"type":"line","color":"#a0a0a0","strokeWidth":1.5},"encoding":{"x":{"field":"day","type":"quantitative","scale":{"domain":[-0.96,16.1],"nice":false,"range":[397.7,562.7]},"axis":{"orient":"bottom","offset":-30,"values":[0,5,10,15],"labelFontSize":11,"titleFontSize":11,"title":"Day after induction","labelPadding":2,"titlePadding":3}},"y":{"field":"v","type":"quantitative","title":"% Initial weight","scale":{"domain":[80,110],"nice":false,"range":[530,420]},"axis":{"orient":"right","offset":-177.3,"values":[80,90,100,110],"labelColor":"#aaa","labelFontSize":11,"title":"% Initial weight","titleColor":"#aaa","titleFontSize":11,"titleAngle":90,"labelPadding":2,"titlePadding":1}}}},
    {"mark":{"type":"errorbar","color":"#a0a0a0","ticks":{"size":8,"color":"#a0a0a0"},"rule":{"color":"#a0a0a0"}},"encoding":{"x":{"field":"day","type":"quantitative"},"y":{"field":"lo","type":"quantitative","title":"% Initial weight"},"y2":{"field":"hi"}}}
   ]},
   {"layer":[
    {"transform":[{"filter":"datum.s=='S'"}],"mark":{"type":"line","color":"#a0a0a0","strokeWidth":1.5,"strokeDash":[5,3]},"encoding":{"x":{"field":"day","type":"quantitative"},"y":{"field":"v","type":"quantitative","scale":{"domain":[0,10],"nice":false,"range":[530,420]},"axis":{"orient":"left","offset":-397.7,"values":[0,2,4,6,8,10],"labelFontSize":11.5,"title":null,"labelPadding":2}}}},
    {"transform":[{"filter":"datum.s=='S'"}],"mark":{"type":"errorbar","color":"#a0a0a0","ticks":{"size":8,"color":"#a0a0a0"},"rule":{"color":"#a0a0a0"}},"encoding":{"x":{"field":"day","type":"quantitative"},"y":{"field":"lo","type":"quantitative"},"y2":{"field":"hi"}}},
    {"transform":[{"filter":"datum.s[0]=='G'"}],"mark":{"type":"line","color":"#000","strokeWidth":1.4},"encoding":{"x":{"field":"day","type":"quantitative"},"y":{"field":"v","type":"quantitative"},"detail":{"field":"s"}}},
    {"transform":[{"filter":"datum.s[0]=='G'"}],"mark":{"type":"errorbar","color":"#000","ticks":{"size":8,"color":"#000"},"rule":{"color":"#000"}},"encoding":{"x":{"field":"day","type":"quantitative"},"y":{"field":"lo","type":"quantitative"},"y2":{"field":"hi"}}},
    {"transform":[{"filter":"datum.s[0]=='G'"}],"mark":{"type":"point","filled":false,"stroke":"#000","strokeWidth":1.3,"size":42,"opacity":1},"encoding":{"x":{"field":"day","type":"quantitative"},"y":{"field":"v","type":"quantitative"},"shape":{"field":"s","type":"nominal","legend":null,"scale":{"domain":["G57","G71","G77"],"range":["circle","square","triangle-up"]}}}}
   ]}
]},
{"data":{"values":[{"t":"G44"},{"t":"G63"},{"t":"G70"},{"t":"Mouse weight"},{"t":"Diarrhea score"}]},"encoding":{"y":{"field":"t","type":"nominal","sort":null,"axis":null,"scale":{"type":"point","domain":["G44","G63","G70","Mouse weight","Diarrhea score"],"range":[286,346]}}},"layer":[
   {"mark":{"type":"rule","strokeWidth":1.5},"encoding":{"x":{"datum":608,"scale":{"domain":[0,740],"nice":false,"range":[0,740]},"axis":null},"x2":{"datum":622},"stroke":{"field":"t","type":"nominal","legend":null,"scale":{"domain":["G44","G63","G70","Mouse weight","Diarrhea score"],"range":["#000","#000","#000","#a0a0a0","#a0a0a0"]}},"strokeDash":{"field":"t","type":"nominal","legend":null,"scale":{"domain":["G44","G63","G70","Mouse weight","Diarrhea score"],"range":[[1,0],[1,0],[1,0],[1,0],[5,3]]}}}},
   {"transform":[{"filter":"datum.t[0]=='G'"}],"mark":{"type":"point","filled":true,"color":"#000","size":38,"opacity":1},"encoding":{"x":{"datum":615,"axis":null},"shape":{"field":"t","type":"nominal","legend":null,"scale":{"domain":["G44","G63","G70"],"range":["circle","square","triangle-up"]}}}},
   {"mark":{"type":"text","align":"left","fontSize":11.5,"color":"#111"},"encoding":{"x":{"datum":627,"axis":null},"text":{"field":"t"}}}
]},
{"data":{"values":[{"t":"G57"},{"t":"G71"},{"t":"G77"},{"t":"Mouse weight"},{"t":"Diarrhea score"}]},"encoding":{"y":{"field":"t","type":"nominal","sort":null,"axis":null,"scale":{"type":"point","domain":["G57","G71","G77","Mouse weight","Diarrhea score"],"range":[441.7,506]}}},"layer":[
   {"mark":{"type":"rule","strokeWidth":1.5},"encoding":{"x":{"datum":610,"scale":{"domain":[0,740],"nice":false,"range":[0,740]},"axis":null},"x2":{"datum":623},"stroke":{"field":"t","type":"nominal","legend":null,"scale":{"domain":["G57","G71","G77","Mouse weight","Diarrhea score"],"range":["#000","#000","#000","#a0a0a0","#a0a0a0"]}},"strokeDash":{"field":"t","type":"nominal","legend":null,"scale":{"domain":["G57","G71","G77","Mouse weight","Diarrhea score"],"range":[[1,0],[1,0],[1,0],[1,0],[5,3]]}}}},
   {"transform":[{"filter":"datum.t[0]=='G'"}],"mark":{"type":"point","filled":false,"stroke":"#000","strokeWidth":1.3,"size":42,"opacity":1},"encoding":{"x":{"datum":616.5,"axis":null},"shape":{"field":"t","type":"nominal","legend":null,"scale":{"domain":["G57","G71","G77"],"range":["circle","square","triangle-up"]}}}},
   {"mark":{"type":"text","align":"left","fontSize":11.5,"color":"#111"},"encoding":{"x":{"datum":629,"axis":null},"text":{"field":"t"}}}
]}
]}
